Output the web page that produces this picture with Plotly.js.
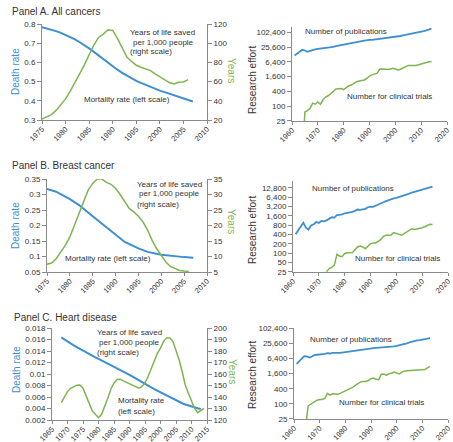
<!DOCTYPE html>
<html><head><meta charset="utf-8">
<script src="https://cdn.plot.ly/plotly-3.0.1.min.js"></script>
<style>html,body{margin:0;padding:0;background:#fff}#chart{width:453px;height:442px}</style>
</head><body><div id="chart"></div>
<script>
// ---------- DATA ----------
// Panel A. All cancers
const aMortYears = [1975,1976,1977,1978,1979,1980,1981,1982,1983,1984,1985,1986,1987,1988,1989,1990,1991,1992,1993,1994,1995,1996,1997,1998,1999,2000,2001,2002,2003,2004,2005,2006,2007];
const aMort = [0.783,0.777,0.770,0.763,0.754,0.744,0.733,0.720,0.705,0.690,0.673,0.655,0.636,0.617,0.598,0.579,0.562,0.546,0.531,0.517,0.504,0.493,0.482,0.472,0.462,0.453,0.445,0.437,0.430,0.423,0.415,0.405,0.396];
const aLifeYears = [1975,1976,1977,1978,1979,1980,1981,1982,1983,1984,1985,1986,1987,1988,1989,1990,1991,1992,1993,1994,1995,1996,1997,1998,1999,2000,2001,2002,2003,2004,2005,2006];
const aLife = [21,23,25.6,30,36,42,50,59,67,77.5,88,98,106,109.5,114,113.4,105,95,85.5,81,77,75,73,71.4,68,65,62.7,59,57.6,59.4,59.7,62];
const aPubYears = [1961,1962,1963,1964,1965,1966,1967,1968,1969,1970,1971,1972,1973,1974,1975,1976,1977,1978,1979,1980,1981,1982,1983,1984,1985,1986,1987,1988,1989,1990,1991,1992,1993,1994,1995,1996,1997,1998,1999,2000,2001,2002,2003,2004,2005,2006,2007,2008,2009,2010,2011,2012,2013,2014];
const aPub = [11600,13600,17000,19900,18700,16500,18000,19900,20800,21800,22300,23000,23800,24700,25600,26500,28000,29500,31500,33500,35000,36500,38500,40500,42000,43500,45000,47000,49500,51000,50500,52000,54000,55000,56000,57500,59500,61500,63500,66000,69500,73000,76500,80000,84000,88500,93000,98000,103000,109000,116000,124000,134000,145000];
const aTrialYears = [1964.8,1965,1966,1967,1968,1969,1970,1971,1972,1973,1974,1975,1976,1977,1978,1979,1980,1981,1982,1983,1984,1985,1986,1987,1988,1989,1990,1991,1992,1993,1994,1995,1996,1997,1998,1999,2000,2001,2002,2003,2004,2005,2006,2007,2008,2009,2010,2011,2012,2013,2014];
const aTrial = [25,58,66,83,133,120,148,120,183,235,266,343,400,500,525,525,470,590,680,730,850,1000,1060,1100,1170,1370,1700,1900,2070,2220,3300,3200,3100,3200,3200,3500,3300,3000,3200,3600,4100,4600,4600,4500,4600,4900,5300,5600,6100,6500,6500];

// Panel B. Breast cancer
const bMortYears = [1975,1977,1980,1982,1985,1987,1990,1992,1995,1997,2000,2002,2005,2007];
const bMort = [0.318,0.309,0.285,0.266,0.230,0.206,0.169,0.147,0.126,0.115,0.106,0.102,0.098,0.096];
const bLifeYears = [1975,1976,1977,1978,1979,1980,1981,1982,1983,1984,1985,1986,1987,1988,1989,1990,1991,1992,1993,1994,1995,1996,1997,1998,1999,2000,2001,2002,2003,2004,2005,2006];
const bLife = [7.5,7.9,9.3,11.5,13.6,16.3,20.1,24.4,28.2,31.4,33.6,35,35,33.9,33.3,32,30,27.7,25.5,24.4,23,21.2,18.5,15.2,12.5,10.4,8.2,6.8,6.1,5.5,5.3,5.2];
const bPubYears = [1961,1962,1963,1964,1965,1966,1967,1968,1969,1970,1971,1972,1973,1974,1975,1976,1977,1978,1979,1980,1981,1982,1983,1984,1985,1986,1987,1988,1989,1990,1991,1992,1993,1994,1995,1996,1997,1998,1999,2000,2001,2002,2003,2004,2005,2006,2007,2008,2009,2010,2011,2012,2013,2014];
const bPub = [410,550,740,970,670,580,790,860,1020,950,1100,1070,1150,1290,1450,1410,1700,1740,1780,1950,2000,2100,2150,2320,2570,2500,2570,2700,3050,3200,3130,3360,3700,4000,4400,4800,5200,5460,5900,6100,6450,6950,7350,7900,8400,9100,9600,10300,11100,11900,12500,13200,13500,14100];
const bTrialYears = [1973,1974,1975,1976,1977,1978,1979,1980,1981,1982,1983,1984,1985,1986,1987,1988,1989,1990,1991,1992,1993,1994,1995,1996,1997,1998,1999,2000,2001,2002,2003,2004,2005,2006,2007,2008,2009,2010,2011,2012,2013,2014];
const bTrial = [25.5,32,35,41,92,82,78,98,103,105,105,131,160,171,160,140,168,205,215,215,243,281,353,380,380,390,463,430,400,380,430,485,580,620,590,605,650,665,715,800,860,840];

// Panel C. Heart disease
const cMortYears = [1968,1969,1970,1971,1972,1973,1974,1975,1976,1977,1978,1979,1980,1981,1982,1983,1984,1985,1986,1987,1988,1989,1990,1991,1992,1993,1994,1995,1996,1997,1998,1999,2000,2001,2002,2003,2004,2005,2006,2007,2008,2009,2010,2011,2012,2013];
const cMort = [0.01637,0.01600,0.01567,0.01533,0.01500,0.01468,0.01436,0.01404,0.01375,0.01346,0.01318,0.01291,0.01265,0.01238,0.01211,0.01184,0.01158,0.01131,0.01102,0.01073,0.01044,0.01015,0.00985,0.00953,0.00920,0.00888,0.00855,0.00823,0.00795,0.00767,0.00739,0.00711,0.00683,0.00654,0.00624,0.00595,0.00566,0.00537,0.00514,0.00492,0.00470,0.00451,0.00433,0.00418,0.00404,0.00392];
const cLifeYears = [1968,1969,1970,1971,1972,1973,1974,1975,1976,1977,1978,1979,1980,1981,1982,1983,1984,1985,1986,1987,1988,1989,1990,1991,1992,1993,1994,1995,1996,1997,1998,1999,2000,2001,2002,2003,2004,2005,2006,2007,2008,2009,2010,2011,2012,2013,2014];
const cLife = [135.1,140.4,144.7,147.6,149,150.3,150.5,147.6,141,134.5,128,125,122,125,131.6,138.9,147,152,155.2,155.5,154,152.6,151.4,150,148.5,147.6,149,152.3,157.8,165,172.4,178,182.5,188.4,191.3,191.3,188.4,181,172.4,162,150.5,143.3,136,130.2,126.4,128.7,130.2];
const cPubYears = [1961,1962,1963,1964,1965,1966,1967,1968,1969,1970,1971,1972,1973,1974,1975,1976,1977,1978,1979,1980,1981,1982,1983,1984,1985,1986,1987,1988,1989,1990,1991,1992,1993,1994,1995,1996,1997,1998,1999,2000,2001,2002,2003,2004,2005,2006,2007,2008,2009,2010,2011,2012,2013];
const cPub = [3940,4870,6200,7900,7700,7000,7700,8700,9000,9200,9200,9800,10400,10100,10700,10400,10700,10700,11100,11400,11800,12200,12700,13300,14100,14500,15000,15500,15900,16300,16500,16800,17000,17200,17300,17600,17800,18500,19300,20300,21200,22200,23800,25700,28100,30500,32700,33600,34600,35700,37300,39100,41500];
const cTrialYears = [1964.9,1965.5,1966,1967,1968,1969,1970,1971,1972,1973,1974,1975,1976,1977,1978,1979,1980,1981,1982,1983,1984,1985,1986,1987,1988,1989,1990,1991,1992,1993,1994,1995,1996,1997,1998,1999,2000,2001,2002,2003,2004,2005,2006,2007,2008,2009,2010,2011,2012,2013];
const cTrial = [25,80,90,105,115,140,150,150,165,260,220,250,245,240,260,290,330,360,390,460,560,660,750,780,780,850,1000,1060,950,920,1500,1550,1350,1600,1650,1830,1700,1550,1800,2050,2100,2150,2200,2250,2250,2270,2300,2350,2700,3100];

// tick labels
const tickA = [25,100,400,1600,6400,25600,102400];
const tickAText = ['25','100','400','1,600','6,400','25,600','102,400'];
const tickB = [25,50,100,200,400,800,1600,3200,6400,12800];
const tickBText = ['25','50','100','200','400','800','1,600','3,200','6,400','12,800'];

// labels
const panelTitles = ['Panel A. All cancers','Panel B. Breast cancer','Panel C. Heart disease'];

// ---------- STYLE ----------
const BLUE = '#3d8fd1', GREEN = '#7db54f', AXC = '#8a8a8a', TXT = '#333333';
const FONT = 'Liberation Sans, Arial, Helvetica, sans-serif';
const W = 453, H = 442;
const px = v => v / W, py = v => 1 - v / H;

function line(x, y, xa, ya, color, w) {
  return {x: x, y: y, xaxis: xa, yaxis: ya, type: 'scatter', mode: 'lines',
          line: {color: color, width: w}, hoverinfo: 'skip', showlegend: false};
}
const traces = [
  line(aMortYears, aMort, 'x', 'y', BLUE, 2),
  line(aLifeYears, aLife, 'x', 'y2', GREEN, 1.5),
  line(aPubYears, aPub, 'x2', 'y3', BLUE, 1.8),
  line(aTrialYears, aTrial, 'x2', 'y3', GREEN, 1.5),
  line(bMortYears, bMort, 'x3', 'y4', BLUE, 2),
  line(bLifeYears, bLife, 'x3', 'y5', GREEN, 1.5),
  line(bPubYears, bPub, 'x4', 'y6', BLUE, 1.8),
  line(bTrialYears, bTrial, 'x4', 'y6', GREEN, 1.5),
  line(cMortYears, cMort, 'x5', 'y7', BLUE, 2),
  line(cLifeYears, cLife, 'x5', 'y8', GREEN, 1.5),
  line(cPubYears, cPub, 'x6', 'y9', BLUE, 1.8),
  line(cTrialYears, cTrial, 'x6', 'y9', GREEN, 1.5)
];

const base = {showline: true, linecolor: AXC, linewidth: 1, ticks: 'outside', ticklen: 4,
  tickcolor: AXC, showgrid: false, zeroline: false, fixedrange: true,
  tickfont: {family: FONT, size: 8, color: TXT}};
const ax = o => Object.assign({}, base, o);
const xl = (l, r, anchor, range, dtick) => ax({domain: [px(l), px(r)], anchor: anchor,
  range: range, dtick: dtick, tick0: range[0], tickangle: -45, ticklen: 3, ticklabelstandoff: -2,
  tickfont: {family: FONT, size: 7.5, color: TXT}});

const layout = {
  width: W, height: H, margin: {l: 0, r: 0, t: 0, b: 0},
  paper_bgcolor: '#fff', plot_bgcolor: 'rgba(0,0,0,0)',
  font: {family: FONT, size: 8, color: TXT},
  showlegend: false,
  xaxis: xl(42, 207, 'y', [1975, 2010], 5),
  yaxis: ax({domain: [py(120), py(24)], anchor: 'x', range: [0.3, 0.8001], dtick: 0.1, tick0: 0.3}),
  yaxis2: ax({overlaying: 'y', side: 'right', anchor: 'x', range: [20, 120.01], dtick: 20, tick0: 20}),
  xaxis2: xl(292, 447, 'y3', [1960, 2020], 10),
  yaxis3: ax({domain: [py(121), py(27)], anchor: 'x2', type: 'log', range: [Math.log10(25) - 0.002, 5.23],
    tickmode: 'array', tickvals: tickA, ticktext: tickAText}),
  xaxis3: xl(47, 207, 'y4', [1975, 2010], 5),
  yaxis4: ax({domain: [py(272), py(179)], anchor: 'x3', range: [0.05, 0.3501], dtick: 0.05, tick0: 0.05}),
  yaxis5: ax({overlaying: 'y4', side: 'right', anchor: 'x3', range: [5, 35.01], dtick: 5, tick0: 5}),
  xaxis4: xl(293, 448, 'y6', [1960, 2020], 10),
  yaxis6: ax({domain: [py(272), py(181)], anchor: 'x4', type: 'log', range: [Math.log10(25) - 0.002, 4.33],
    tickmode: 'array', tickvals: tickB, ticktext: tickBText}),
  xaxis5: xl(52, 207, 'y7', [1965, 2015], 5),
  yaxis7: ax({domain: [py(420), py(328)], anchor: 'x5', range: [0.002, 0.01801], dtick: 0.002, tick0: 0.002}),
  yaxis8: ax({overlaying: 'y7', side: 'right', anchor: 'x5', range: [120, 200.01], dtick: 10, tick0: 120}),
  xaxis6: xl(294, 448, 'y9', [1960, 2020], 10),
  yaxis9: ax({domain: [py(419), py(328)], anchor: 'x6', type: 'log', range: [Math.log10(25) - 0.002, 5.02],
    tickmode: 'array', tickvals: tickA, ticktext: tickAText}),
  annotations: []
};

function note(text, x, y, opts) {
  layout.annotations.push(Object.assign({text: text, x: px(x), y: py(y), xref: 'paper', yref: 'paper',
    showarrow: false, xanchor: 'left', yanchor: 'middle',
    font: {family: FONT, size: 8, color: TXT}}, opts || {}));
}
const tfont = {family: FONT, size: 10, color: TXT};
// panel titles
note(panelTitles[0], 10, 11, {font: tfont});
note(panelTitles[1], 10, 165, {font: tfont});
note(panelTitles[2], 12, 317, {font: tfont});
// axis titles
const yTitle = (text, x, y, color, angle) => note(text, x, y, {xanchor: 'center', textangle: angle,
  font: {family: FONT, size: 10, color: color}});
yTitle('Death rate', 16, 72, BLUE, -90);
yTitle('Death rate', 16, 226, BLUE, -90);
yTitle('Death rate', 16, 370, BLUE, -90);
yTitle('Years', 232, 71, GREEN, 90);
yTitle('Years', 232, 222, GREEN, 90);
yTitle('Years', 233, 372, GREEN, 90);
yTitle('Research effort', 252, 80, TXT, -90);
yTitle('Research effort', 252, 230, TXT, -90);
yTitle('Research effort', 252, 375, TXT, -90);
// series labels, left panels
note('Years of life saved', 128, 33); note('per 1,000 people', 131, 42); note('(right scale)', 128, 51);
note('Mortality rate (left scale)', 82, 100);
note('Years of life saved', 135, 184); note('per 1,000 people', 137, 193); note('(right scale)', 135, 204);
note('Mortality rate (left scale)', 63, 258);
note('Years of life saved', 95, 332); note('per 1,000 people', 97, 342); note('(right scale)', 95, 352);
note('Mortality rate', 116, 400); note('(left scale)', 116, 411);
// series labels, right panels
note('Number of publications', 303, 32); note('Number for clinical trials', 345, 96);
note('Number of publications', 310, 188); note('Number for clinical trials', 353, 258);
note('Number of publications', 308, 339); note('Number for clinical trials', 337, 402);

Plotly.newPlot('chart', traces, layout, {staticPlot: true, displayModeBar: false});
</script></body></html>
